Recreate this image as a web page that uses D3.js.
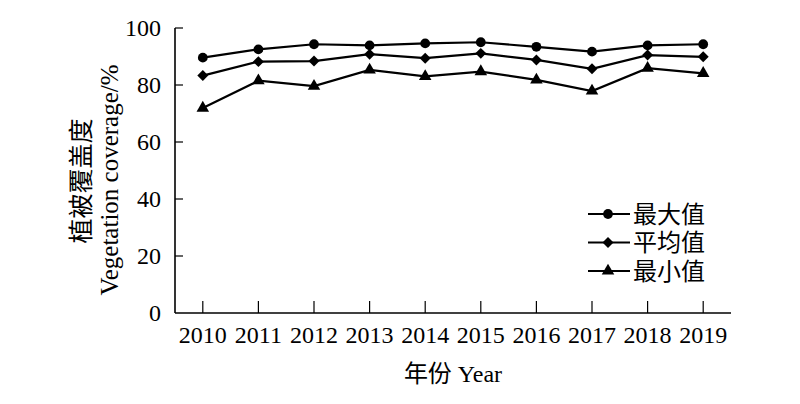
<!DOCTYPE html>
<html><head><meta charset="utf-8">
<script src="https://cdn.jsdelivr.net/npm/d3@7"></script>
<style>
body{margin:0;background:#fff;}
svg{display:block;}
text{font-family:"Liberation Serif","Times New Roman","Noto Sans CJK SC",serif;fill:#000;}
.cjk{font-family:"Liberation Serif","Noto Sans CJK SC",serif;}
</style></head>
<body>
<script>
const years = ["2010","2011","2012","2013","2014","2015","2016","2017","2018","2019"];
const maxValues  = [89.6, 92.5, 94.3, 93.9, 94.6, 95.0, 93.4, 91.7, 93.9, 94.3];
const meanValues = [83.3, 88.2, 88.4, 90.8, 89.4, 91.1, 88.8, 85.7, 90.5, 89.9];
const minValues  = [71.9, 81.5, 79.6, 85.3, 83.0, 84.7, 81.8, 77.9, 85.9, 84.1];
const yTicks = [0, 20, 40, 60, 80, 100];
const seriesNames = ["最大值", "平均值", "最小值"];
const xTitle = "年份 Year";
const yTitleCn = "植被覆盖度";
const yTitleEn = "Vegetation coverage/%";

(function(){
const W = 800, H = 404;
const svg = d3.select("body").append("svg").attr("width", W).attr("height", H);

const mLeft = 175, mRight = 731, mTop = 28, mBottom = 313;
const x = d3.scalePoint().domain(years).range([mLeft, mRight]).padding(0.5);
const y = d3.scaleLinear().domain([0, 100]).range([mBottom, mTop]);

const series = [maxValues, meanValues, minValues];
const symbolDefs = [
  {type: d3.symbolCircle, size: 75, rot: 0},
  {type: d3.symbolSquare, size: 60, rot: 45},
  {type: d3.symbolTriangle, size: 68, rot: 0}
];

// axes
const ax = svg.append("g").attr("fill","none").attr("stroke","#000").attr("stroke-width",1.6);
ax.append("line").attr("x1", mLeft).attr("x2", mLeft).attr("y1", y(100)).attr("y2", mBottom);
ax.append("line").attr("x1", mLeft).attr("x2", mRight).attr("y1", mBottom).attr("y2", mBottom);
yTicks.forEach(t => {
  if (t > 0) ax.append("line").attr("x1", mLeft).attr("x2", mLeft + 8).attr("y1", y(t)).attr("y2", y(t)).attr("stroke-width",1.2);
});
years.forEach(yr => {
  ax.append("line").attr("x1", x(yr)).attr("x2", x(yr)).attr("y1", mBottom).attr("y2", mBottom - 12).attr("stroke-width",1.2);
});

// tick labels
svg.append("g").selectAll("text").data(yTicks).join("text")
  .attr("x", mLeft - 14).attr("y", d => y(d)).attr("dy", "0.35em")
  .attr("text-anchor", "end").style("font-size", "24px").text(d => d);
svg.append("g").selectAll("text").data(years).join("text")
  .attr("x", d => x(d)).attr("y", 343)
  .attr("text-anchor", "middle").style("font-size", "24px").text(d => d);

// titles
svg.append("text").attr("x", (mLeft + mRight) / 2).attr("y", 382)
  .attr("text-anchor", "middle").style("font-size", "24px").text(xTitle);
svg.append("text").attr("transform", "translate(90,181) rotate(-90)")
  .attr("text-anchor", "middle").style("font-size", "25px").attr("class","cjk").text(yTitleCn);
svg.append("text").attr("transform", "translate(118,180) rotate(-90)")
  .attr("text-anchor", "middle").style("font-size", "25px").text(yTitleEn);

// lines and markers
const line = d3.line().x((d, i) => x(years[i])).y(d => y(d));
series.forEach((vals, si) => {
  const s = symbolDefs[si];
  svg.append("path").datum(vals).attr("d", line)
    .attr("fill", "none").attr("stroke", "#000").attr("stroke-width", 2.2);
  svg.append("g").selectAll("path").data(vals).join("path")
    .attr("transform", (d, i) => `translate(${x(years[i])},${y(d)}) rotate(${s.rot})`)
    .attr("d", d3.symbol().type(s.type).size(s.size))
    .attr("fill", "#000");
});

// legend
const legY = [214, 242.5, 271];
seriesNames.forEach((name, i) => {
  const s = symbolDefs[i];
  const g = svg.append("g").attr("transform", `translate(0,${legY[i]})`);
  g.append("line").attr("x1", 588).attr("x2", 630).attr("y1", 0).attr("y2", 0)
    .attr("stroke", "#000").attr("stroke-width", 2);
  g.append("path").attr("transform", `translate(608,0) rotate(${s.rot})`)
    .attr("d", d3.symbol().type(s.type).size(s.size)).attr("fill", "#000");
  g.append("text").attr("x", 633).attr("y", 0).attr("dy", "0.36em")
    .attr("class","cjk").style("font-size", "24px").text(name);
});
})();
</script>
</body></html>
